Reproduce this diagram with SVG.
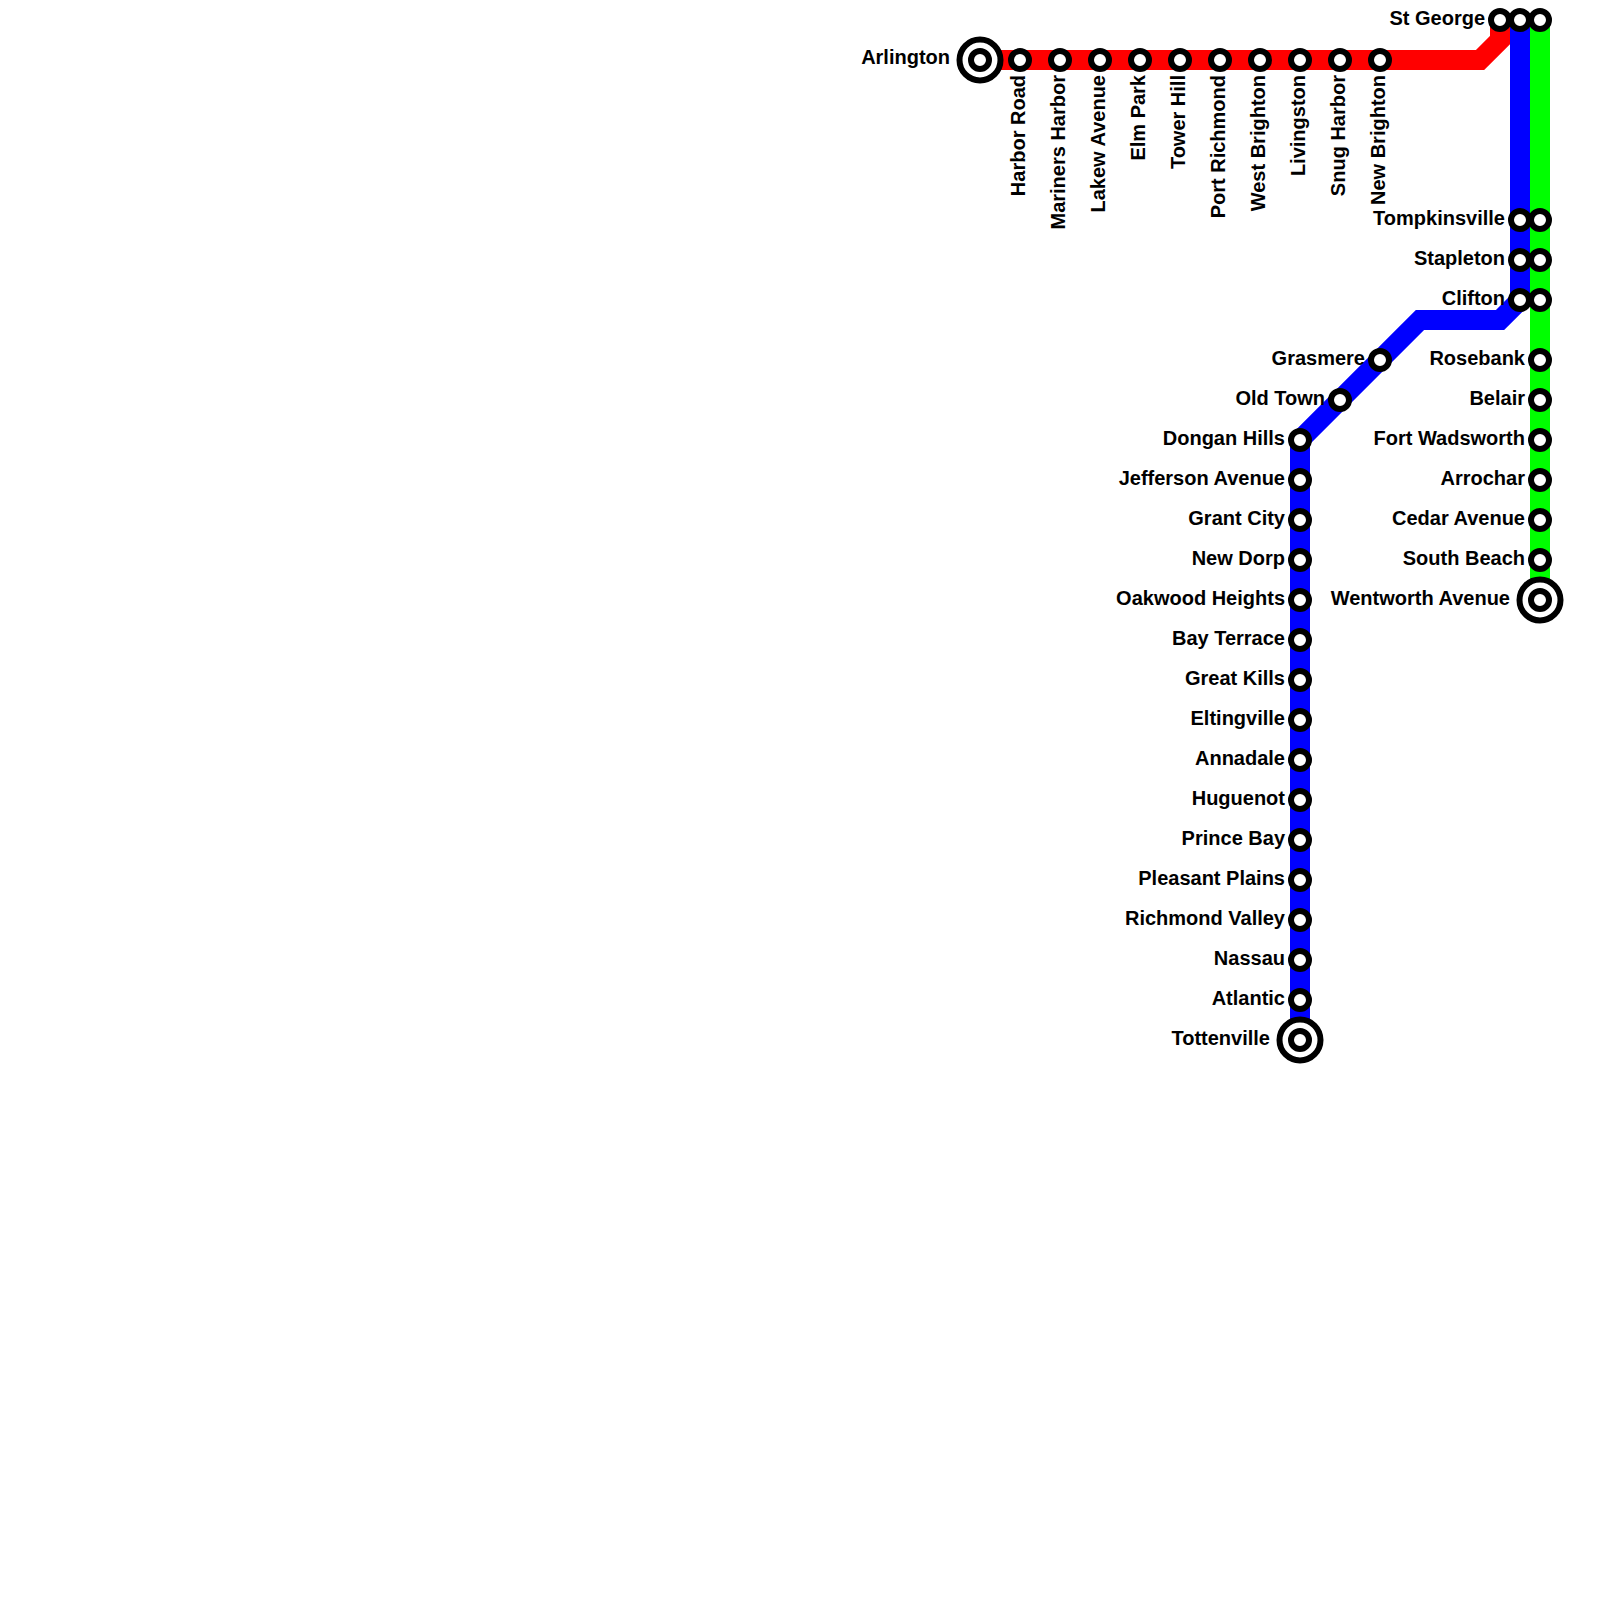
<svg xmlns="http://www.w3.org/2000/svg" width="1600" height="1600" viewBox="0 0 1600 1600">
<style>
.line{fill:none;stroke-width:20;stroke-linejoin:miter;stroke-linecap:butt}
.st{fill:#fff;stroke:#000;stroke-width:6}
.hub{fill:#fff;stroke:#000;stroke-width:6}
text{font-family:"Liberation Sans",Arial,sans-serif;font-weight:bold;font-size:20px;fill:#000}
.l{text-anchor:end}
</style>
<rect width="1600" height="1600" fill="#fff"/>
<g id="connectors">
<path class="line" stroke="#f00" d="M980 60H1480L1500 40V20"/>
<path class="line" stroke="#00f" d="M1520 20V300L1500 320H1420L1300 440V1040"/>
<path class="line" stroke="#0f0" d="M1540 20V600"/>
</g>
<g id="n-arlington"><circle class="hub" cx="980" cy="60" r="20.5"/><circle class="hub" cx="980" cy="60" r="9"/><text class="l" x="950" y="64">Arlington</text></g>
<g id="n-harbor-road"><circle class="st" cx="1020" cy="60" r="9"/><text class="l" transform="translate(1025 75) rotate(-90)">Harbor Road</text></g>
<g id="n-mariners-harbor"><circle class="st" cx="1060" cy="60" r="9"/><text class="l" transform="translate(1065 75) rotate(-90)">Mariners Harbor</text></g>
<g id="n-lakew-avenue"><circle class="st" cx="1100" cy="60" r="9"/><text class="l" transform="translate(1105 75) rotate(-90)">Lakew Avenue</text></g>
<g id="n-elm-park"><circle class="st" cx="1140" cy="60" r="9"/><text class="l" transform="translate(1145 75) rotate(-90)">Elm Park</text></g>
<g id="n-tower-hill"><circle class="st" cx="1180" cy="60" r="9"/><text class="l" transform="translate(1185 75) rotate(-90)">Tower Hill</text></g>
<g id="n-port-richmond"><circle class="st" cx="1220" cy="60" r="9"/><text class="l" transform="translate(1225 75) rotate(-90)">Port Richmond</text></g>
<g id="n-west-brighton"><circle class="st" cx="1260" cy="60" r="9"/><text class="l" transform="translate(1265 75) rotate(-90)">West Brighton</text></g>
<g id="n-livingston"><circle class="st" cx="1300" cy="60" r="9"/><text class="l" transform="translate(1305 75) rotate(-90)">Livingston</text></g>
<g id="n-snug-harbor"><circle class="st" cx="1340" cy="60" r="9"/><text class="l" transform="translate(1345 75) rotate(-90)">Snug Harbor</text></g>
<g id="n-new-brighton"><circle class="st" cx="1380" cy="60" r="9"/><text class="l" transform="translate(1385 75) rotate(-90)">New Brighton</text></g>
<g id="n-st-george"><circle class="st" cx="1500" cy="20" r="9"/><circle class="st" cx="1520" cy="20" r="9"/><circle class="st" cx="1540" cy="20" r="9"/><text class="l" x="1485" y="25">St George</text></g>
<g id="n-tompkinsville"><circle class="st" cx="1520" cy="220" r="9"/><circle class="st" cx="1540" cy="220" r="9"/><text class="l" x="1505" y="225">Tompkinsville</text></g>
<g id="n-stapleton"><circle class="st" cx="1520" cy="260" r="9"/><circle class="st" cx="1540" cy="260" r="9"/><text class="l" x="1505" y="265">Stapleton</text></g>
<g id="n-clifton"><circle class="st" cx="1520" cy="300" r="9"/><circle class="st" cx="1540" cy="300" r="9"/><text class="l" x="1505" y="305">Clifton</text></g>
<g id="n-grasmere"><circle class="st" cx="1380" cy="360" r="9"/><text class="l" x="1365" y="365">Grasmere</text></g>
<g id="n-old-town"><circle class="st" cx="1340" cy="400" r="9"/><text class="l" x="1325" y="405">Old Town</text></g>
<g id="n-dongan-hills"><circle class="st" cx="1300" cy="440" r="9"/><text class="l" x="1285" y="445">Dongan Hills</text></g>
<g id="n-jefferson-avenue"><circle class="st" cx="1300" cy="480" r="9"/><text class="l" x="1285" y="485">Jefferson Avenue</text></g>
<g id="n-grant-city"><circle class="st" cx="1300" cy="520" r="9"/><text class="l" x="1285" y="525">Grant City</text></g>
<g id="n-new-dorp"><circle class="st" cx="1300" cy="560" r="9"/><text class="l" x="1285" y="565">New Dorp</text></g>
<g id="n-oakwood-heights"><circle class="st" cx="1300" cy="600" r="9"/><text class="l" x="1285" y="605">Oakwood Heights</text></g>
<g id="n-bay-terrace"><circle class="st" cx="1300" cy="640" r="9"/><text class="l" x="1285" y="645">Bay Terrace</text></g>
<g id="n-great-kills"><circle class="st" cx="1300" cy="680" r="9"/><text class="l" x="1285" y="685">Great Kills</text></g>
<g id="n-eltingville"><circle class="st" cx="1300" cy="720" r="9"/><text class="l" x="1285" y="725">Eltingville</text></g>
<g id="n-annadale"><circle class="st" cx="1300" cy="760" r="9"/><text class="l" x="1285" y="765">Annadale</text></g>
<g id="n-huguenot"><circle class="st" cx="1300" cy="800" r="9"/><text class="l" x="1285" y="805">Huguenot</text></g>
<g id="n-prince-bay"><circle class="st" cx="1300" cy="840" r="9"/><text class="l" x="1285" y="845">Prince Bay</text></g>
<g id="n-pleasant-plains"><circle class="st" cx="1300" cy="880" r="9"/><text class="l" x="1285" y="885">Pleasant Plains</text></g>
<g id="n-richmond-valley"><circle class="st" cx="1300" cy="920" r="9"/><text class="l" x="1285" y="925">Richmond Valley</text></g>
<g id="n-nassau"><circle class="st" cx="1300" cy="960" r="9"/><text class="l" x="1285" y="965">Nassau</text></g>
<g id="n-atlantic"><circle class="st" cx="1300" cy="1000" r="9"/><text class="l" x="1285" y="1005">Atlantic</text></g>
<g id="n-tottenville"><circle class="hub" cx="1300" cy="1040" r="20.5"/><circle class="hub" cx="1300" cy="1040" r="9"/><text class="l" x="1270" y="1045">Tottenville</text></g>
<g id="n-rosebank"><circle class="st" cx="1540" cy="360" r="9"/><text class="l" x="1525" y="365">Rosebank</text></g>
<g id="n-belair"><circle class="st" cx="1540" cy="400" r="9"/><text class="l" x="1525" y="405">Belair</text></g>
<g id="n-fort-wadsworth"><circle class="st" cx="1540" cy="440" r="9"/><text class="l" x="1525" y="445">Fort Wadsworth</text></g>
<g id="n-arrochar"><circle class="st" cx="1540" cy="480" r="9"/><text class="l" x="1525" y="485">Arrochar</text></g>
<g id="n-cedar-avenue"><circle class="st" cx="1540" cy="520" r="9"/><text class="l" x="1525" y="525">Cedar Avenue</text></g>
<g id="n-south-beach"><circle class="st" cx="1540" cy="560" r="9"/><text class="l" x="1525" y="565">South Beach</text></g>
<g id="n-wentworth-avenue"><circle class="hub" cx="1540" cy="600" r="20.5"/><circle class="hub" cx="1540" cy="600" r="9"/><text class="l" x="1510" y="605">Wentworth Avenue</text></g>
</svg>
